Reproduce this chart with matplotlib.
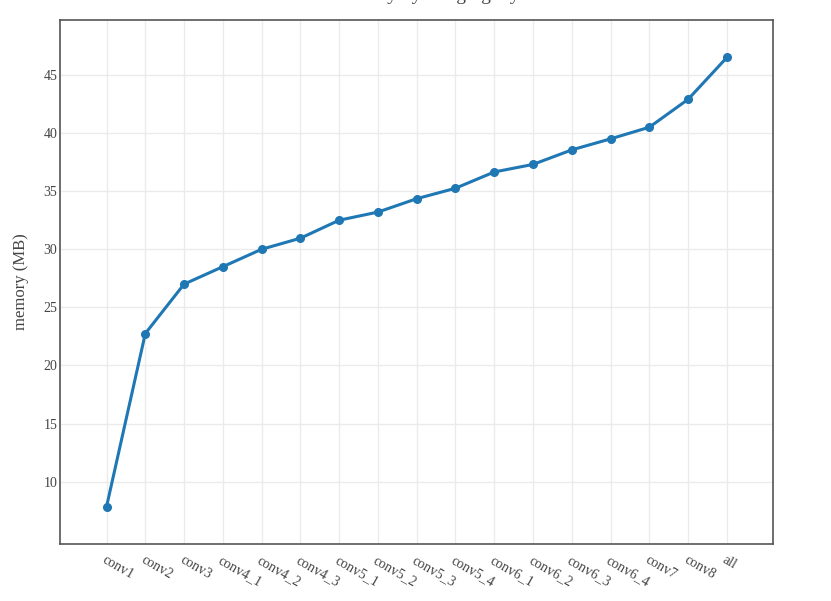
import matplotlib
matplotlib.use("Agg")
import matplotlib.pyplot as plt

layers = ["conv1", "conv2", "conv3", "conv4_1", "conv4_2", "conv4_3", "conv5_1",
          "conv5_2", "conv5_3", "conv5_4", "conv6_1", "conv6_2", "conv6_3",
          "conv6_4", "conv7", "conv8", "all"]
memory = [7.85, 22.75, 27.0, 28.5, 30.0, 30.95, 32.5, 33.2, 34.35, 35.25,
          36.65, 37.3, 38.55, 39.5, 40.5, 42.9, 46.5]
yticks = [10, 15, 20, 25, 30, 35, 40, 45]

plt.rcParams['font.family'] = ['Liberation Serif', 'DejaVu Serif']
txt = "#444444"

fig = plt.figure(figsize=(8.31, 6.01), dpi=100)
ax = fig.add_axes([0.0722, 0.0948, 0.858, 0.872])
x = list(range(len(layers)))
ax.plot(x, memory, color="#1f77b4", lw=2.2, marker="o", ms=5.5, zorder=3)

ax.set_xlim(-1.2, 17.19)
ax.set_ylim(4.64, 49.73)
ax.set_xticks(x)
ax.set_xticklabels(layers, rotation=-30, ha="left", va="top",
                   rotation_mode="anchor", fontsize=10, color=txt)
ax.set_yticks(yticks)
ax.set_yticklabels([str(v) for v in yticks], fontsize=10, color=txt)
ax.tick_params(axis="x", length=0, pad=7)
ax.tick_params(axis="y", length=0, pad=2)
ax.grid(True, color="#ebebeb", lw=1)
ax.set_axisbelow(True)
for s in ax.spines.values():
    s.set_color("#555555")
    s.set_linewidth(1.2)
ax.set_ylabel("memory (MB)", fontsize=12, color=txt, labelpad=10)

# title sits mostly above the canvas, only descenders show
fig.text(0.5, 1.0, "Peak memory by merging layers", ha="center",
         va="baseline", fontsize=14, color=txt)

fig.savefig("out.png", dpi=100)
